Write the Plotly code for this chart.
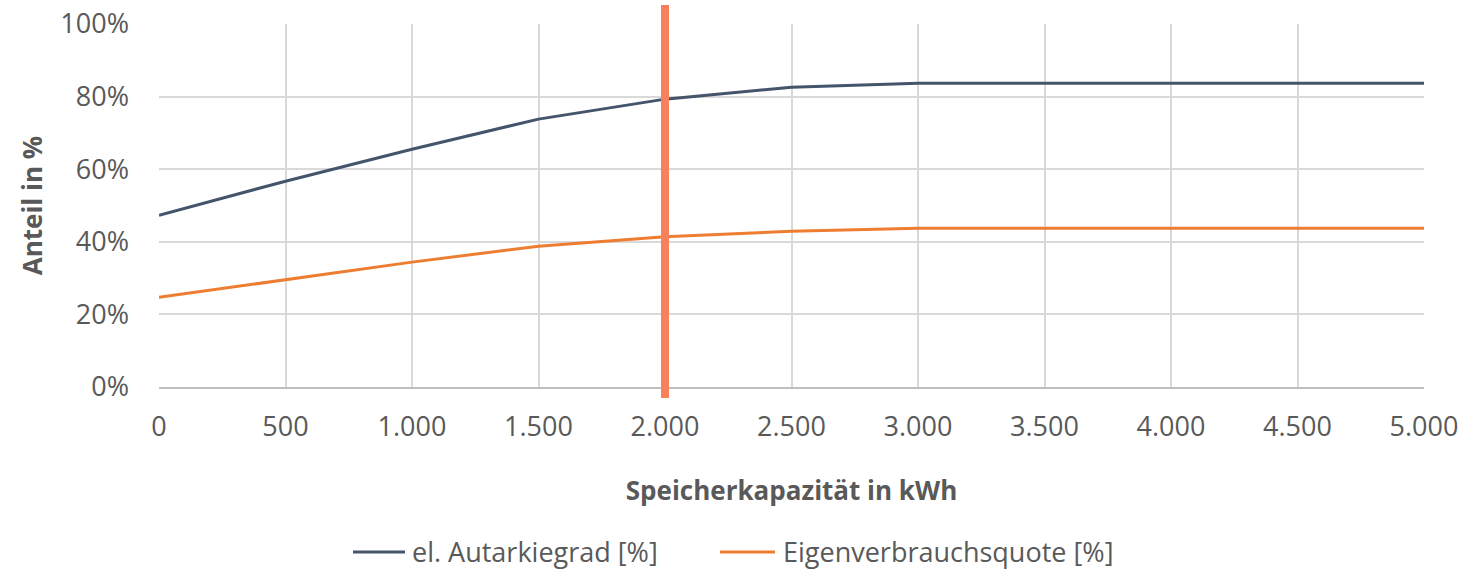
import plotly.graph_objects as go

# Storage capacity in kWh and resulting shares in percent
capacity_kwh = [0, 500, 1000, 1500, 2000, 2500, 3000, 3500, 4000, 4500, 5000]
autarkie_pct = [47.3, 56.7, 65.5, 73.8, 79.3, 82.6, 83.7, 83.7, 83.7, 83.7, 83.7]
eigenverbrauch_pct = [24.7, 29.6, 34.4, 38.8, 41.4, 42.9, 43.7, 43.7, 43.7, 43.7, 43.7]

selected_capacity = 2000

x_ticks = [0, 500, 1000, 1500, 2000, 2500, 3000, 3500, 4000, 4500, 5000]
x_labels = ["0", "500", "1.000", "1.500", "2.000", "2.500", "3.000", "3.500", "4.000", "4.500", "5.000"]
y_ticks = [0, 20, 40, 60, 80, 100]
y_labels = ["0%", "20%", "40%", "60%", "80%", "100%"]

series_names = ["el. Autarkiegrad [%]", "Eigenverbrauchsquote [%]"]
series_colors = ["#44546A", "#ED7D31"]

FONT = "Open Sans"
TEXT_COLOR = "#595959"
GRID_COLOR = "#d9d9d9"

W, H = 1483, 569
M_L, M_R, M_T, M_B = 159, 59, 24, 182
PLOT_W = W - M_L - M_R
PLOT_H = H - M_T - M_B


def px_to_paper_x(px):
    return (px - M_L) / PLOT_W


def px_to_paper_y(py):
    return (H - M_B - py) / PLOT_H


fig = go.Figure()

for name, values, color in zip(series_names, [autarkie_pct, eigenverbrauch_pct], series_colors):
    fig.add_trace(go.Scatter(
        x=capacity_kwh, y=values, mode="lines", name=name,
        line=dict(color=color, width=3), showlegend=False,
    ))

# Marker line for the chosen storage size
fig.add_shape(
    type="line", xref="x", yref="paper",
    x0=selected_capacity, x1=selected_capacity,
    y0=px_to_paper_y(398), y1=px_to_paper_y(5),
    line=dict(color="#F8805A", width=8),
    layer="above",
)

# Legend drawn below the axis title: short line sample followed by the label
legend_y = 551
legend_items = [(353, 405, 410), (720, 775, 781)]
for (lx0, lx1, tx), name, color in zip(legend_items, series_names, series_colors):
    fig.add_shape(
        type="line", xref="paper", yref="paper",
        x0=px_to_paper_x(lx0), x1=px_to_paper_x(lx1),
        y0=px_to_paper_y(legend_y + 1), y1=px_to_paper_y(legend_y + 1),
        line=dict(color=color, width=3),
    )
    fig.add_annotation(
        xref="paper", yref="paper",
        x=px_to_paper_x(tx), y=px_to_paper_y(legend_y),
        xanchor="left", yanchor="middle", showarrow=False,
        text=name, font=dict(family=FONT, size=27, color=TEXT_COLOR),
    )

fig.update_layout(
    width=W, height=H,
    margin=dict(l=M_L, r=M_R, t=M_T, b=M_B, autoexpand=False),
    paper_bgcolor="white", plot_bgcolor="white",
    font=dict(family=FONT, size=27, color=TEXT_COLOR),
    showlegend=False,
)

fig.update_xaxes(
    range=[0, 5000], tickvals=x_ticks, ticktext=x_labels,
    showgrid=True, gridcolor=GRID_COLOR, gridwidth=2,
    showline=True, linecolor="#bfbfbf", linewidth=2,
    ticks="", zeroline=False, ticklabelstandoff=15, automargin=False,
    tickfont=dict(family=FONT, size=27, color=TEXT_COLOR),
    title=dict(text="<b>Speicherkapazität in kWh</b>", standoff=38,
               font=dict(family=FONT, size=26, color=TEXT_COLOR)),
)
fig.update_yaxes(
    range=[0, 100], tickvals=y_ticks, ticktext=y_labels,
    showgrid=True, gridcolor=GRID_COLOR, gridwidth=2,
    showline=False, ticks="", zeroline=False, ticklabelstandoff=29,
    automargin=False,
    tickfont=dict(family=FONT, size=27, color=TEXT_COLOR),
    title=dict(text="<b>Anteil in %</b>", standoff=10,
               font=dict(family=FONT, size=26, color=TEXT_COLOR)),
)

fig.write_html("out.html")
